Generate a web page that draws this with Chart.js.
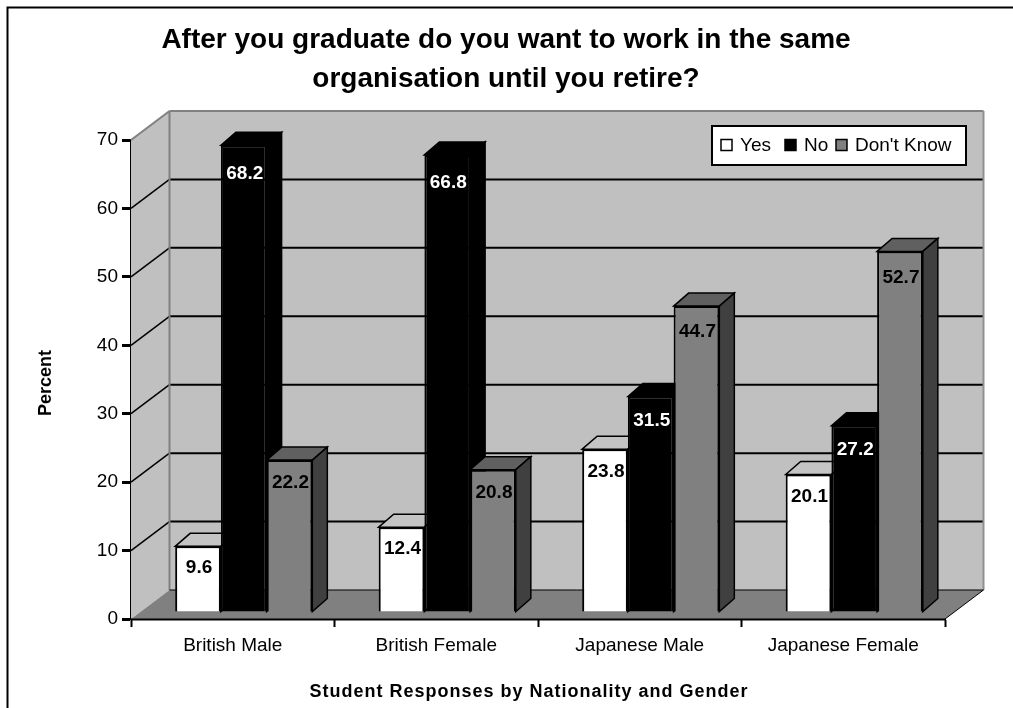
<!DOCTYPE html>
<html>
<head>
<meta charset="utf-8">
<style>
  html, body { margin: 0; padding: 0; background: #fff; }
  canvas { display: block; }
</style>
<script src="https://cdn.jsdelivr.net/npm/chart.js@4"></script>
</head>
<body>
<canvas id="chart" width="1013" height="708"></canvas>
<script>
// --- data ---
const categories = ['British Male', 'British Female', 'Japanese Male', 'Japanese Female'];
const seriesNames = ['Yes', 'No', "Don't Know"];
const yesValues = [9.6, 12.4, 23.8, 20.1];
const noValues = [68.2, 66.8, 31.5, 27.2];
const dontKnowValues = [22.2, 20.8, 44.7, 52.7];

const chartTitle = ['After you graduate do you want to work in the same', 'organisation until you retire?'];
const xTitle = 'Student Responses by Nationality and Gender';
const yTitle = 'Percent';

// --- look ---
const FONT = '"Liberation Sans", Arial, sans-serif';
const frontColors = ['#ffffff', '#000000', '#808080'];
const sideColors = ['#c0c0c0', '#000000', '#404040'];
const topColors = ['#c4c4c4', '#000000', '#606060'];
const labelColors = ['#000000', '#ffffff', '#000000'];

// depth of the room and of the bars, in px
const wall = { dx: 38.5, dy: -29 };
const bar = { dx: 15, dy: -13 };
const barShift = { x: 11, y: -7 };

function poly(ctx, pts, fill, stroke, width) {
    ctx.beginPath();
    pts.forEach((p, i) => i ? ctx.lineTo(p[0], p[1]) : ctx.moveTo(p[0], p[1]));
    ctx.closePath();
    if (fill) { ctx.fillStyle = fill; ctx.fill(); }
    if (stroke) { ctx.strokeStyle = stroke; ctx.lineWidth = width; ctx.stroke(); }
}

function line(ctx, x1, y1, x2, y2, color, width) {
    ctx.beginPath();
    ctx.moveTo(x1, y1);
    ctx.lineTo(x2, y2);
    ctx.strokeStyle = color;
    ctx.lineWidth = width;
    ctx.stroke();
}

// the grey room behind the bars
function drawRoom(chart) {
    const ctx = chart.ctx;
    const a = chart.chartArea;
    const dx = wall.dx, dy = wall.dy;
    const y = chart.scales.y;

    poly(ctx, [[a.left + dx, a.top + dy], [a.right + dx, a.top + dy], [a.right + dx, a.bottom + dy], [a.left + dx, a.bottom + dy]], '#c0c0c0');
    poly(ctx, [[a.left, a.top], [a.left + dx, a.top + dy], [a.left + dx, a.bottom + dy], [a.left, a.bottom]], '#c0c0c0');
    poly(ctx, [[a.left, a.bottom], [a.left + dx, a.bottom + dy], [a.right + dx, a.bottom + dy], [a.right, a.bottom]], '#808080');

    y.ticks.forEach(t => {
        const py = y.getPixelForValue(t.value);
        if (t.value === 0 || t.value === 70) return;
        line(ctx, a.left, py, a.left + dx, py + dy, '#000', 1.5);
        line(ctx, a.left + dx, py + dy, a.right + dx, py + dy, '#000', 2);
    });

    line(ctx, a.left, a.top, a.left + dx, a.top + dy, '#808080', 2);
    line(ctx, a.left + dx, a.top + dy, a.right + dx, a.top + dy, '#808080', 2);
    line(ctx, a.left + dx, a.top + dy, a.left + dx, a.bottom + dy, '#808080', 2);
    line(ctx, a.right + dx, a.top + dy, a.right + dx, a.bottom + dy, '#909090', 2);
    line(ctx, a.left + dx, a.bottom + dy, a.right + dx, a.bottom + dy, '#000', 1);
    line(ctx, a.right, a.bottom, a.right + dx, a.bottom + dy, '#000', 1);
    line(ctx, a.left, a.bottom + 0.5, a.right, a.bottom + 0.5, '#000', 2);
}

function drawBarDepth(ctx, b, i) {
    const left = b.x - b.width / 2, right = b.x + b.width / 2;
    poly(ctx, [[left, b.y], [left + bar.dx, b.y + bar.dy], [right + bar.dx, b.y + bar.dy], [right, b.y]], topColors[i], '#000', 1.5);
    poly(ctx, [[right, b.y], [right + bar.dx, b.y + bar.dy], [right + bar.dx, b.base + bar.dy], [right, b.base]], sideColors[i], '#000', 1.5);
}

function drawLegend(chart) {
    const ctx = chart.ctx;
    ctx.save();
    ctx.fillStyle = '#fff';
    ctx.fillRect(712, 126, 254, 39);
    ctx.strokeStyle = '#000';
    ctx.lineWidth = 2;
    ctx.strokeRect(712, 126, 254, 39);
    ctx.font = '19px ' + FONT;
    ctx.textBaseline = 'middle';
    const swatchX = [721, 785, 836];
    chart.data.datasets.forEach((ds, i) => {
        ctx.fillStyle = frontColors[i];
        ctx.fillRect(swatchX[i], 139.5, 11, 11);
        ctx.strokeStyle = '#000';
        ctx.lineWidth = 1.5;
        ctx.strokeRect(swatchX[i], 139.5, 11, 11);
        ctx.fillStyle = '#000';
        ctx.textAlign = 'left';
        ctx.fillText(ds.label, swatchX[i] + 19, 146);
    });
    ctx.restore();
}

// axis titles sit off centre and the x one is letter spaced in the original
function drawAxisTitles(chart) {
    const ctx = chart.ctx;
    ctx.save();
    ctx.fillStyle = '#000';
    ctx.textAlign = 'center';
    ctx.textBaseline = 'middle';
    ctx.font = 'bold 18px ' + FONT;
    ctx.letterSpacing = '1px';
    ctx.fillText(xTitle, 529, 692);
    ctx.letterSpacing = '0px';
    ctx.translate(46, 383);
    ctx.rotate(-Math.PI / 2);
    ctx.fillText(yTitle, 0, 0);
    ctx.restore();
}

const room3d = {
    id: 'room3d',
    beforeDraw(chart) {
        const ctx = chart.ctx;
        ctx.save();
        ctx.strokeStyle = '#000';
        ctx.lineWidth = 2;
        ctx.beginPath();
        ctx.moveTo(7.5, 708);
        ctx.lineTo(7.5, 7.5);
        ctx.lineTo(1013, 7.5);
        ctx.stroke();
        ctx.restore();
        drawAxisTitles(chart);
    },
    afterLayout(chart) {
        // title is centred on the whole picture, not on the padded box
        chart.titleBlock.left = 0;
        chart.titleBlock.right = 1012;
    },
    // bars go left to right so that the nearer sides overlap properly
    beforeDatasetsDraw(chart) {
        const ctx = chart.ctx;
        drawRoom(chart);
        ctx.save();
        ctx.translate(barShift.x, barShift.y);
        chart.data.datasets.forEach((ds, i) => {
            const meta = chart.getDatasetMeta(i);
            meta.data.forEach(b => drawBarDepth(ctx, b, i));
            meta.controller.draw();
        });
        ctx.font = 'bold 19px ' + FONT;
        ctx.textAlign = 'center';
        ctx.textBaseline = 'middle';
        chart.data.datasets.forEach((ds, i) => {
            chart.getDatasetMeta(i).data.forEach((b, j) => {
                ctx.fillStyle = labelColors[i];
                ctx.fillText(ds.data[j].toFixed(1), b.x + 1, b.y + 20.5 + ds.data[j] * 0.11);
            });
        });
        ctx.restore();
        drawLegend(chart);
        return false;
    }
};

new Chart(document.getElementById('chart'), {
    type: 'bar',
    plugins: [room3d],
    data: {
        labels: categories,
        datasets: [yesValues, noValues, dontKnowValues].map((values, i) => ({
            label: seriesNames[i],
            data: values,
            backgroundColor: frontColors[i],
            borderColor: '#000',
            borderWidth: 2,
            categoryPercentage: 0.674,
            barPercentage: 1
        }))
    },
    options: {
        responsive: false,
        animation: false,
        devicePixelRatio: 1,
        layout: { padding: { left: 0, right: 68, top: 0, bottom: 0 } },
        plugins: {
            legend: { display: false },
            tooltip: { enabled: false },
            title: {
                display: true,
                text: chartTitle,
                color: '#000',
                font: { family: FONT, size: 28, weight: 'bold', lineHeight: 1.4 },
                padding: { top: 20.5, bottom: 41.1 }
            }
        },
        scales: {
            x: {
                grid: { drawOnChartArea: false, drawTicks: true, tickLength: 8, tickWidth: 2, tickColor: '#000' },
                border: { color: '#000', width: 2 },
                ticks: { color: '#000', font: { family: FONT, size: 19 }, padding: 7, maxRotation: 0 },
                afterFit(s) { s.height = 89; }
            },
            y: {
                min: 0,
                max: 70,
                grid: { drawOnChartArea: false, tickLength: 9, tickWidth: 3, tickColor: '#000' },
                border: { color: '#000', width: 2 },
                ticks: { stepSize: 10, color: '#000', font: { family: FONT, size: 19 }, padding: 4 },
                afterFit(s) { s.width = 131; }
            }
        }
    }
});
</script>
</body>
</html>
